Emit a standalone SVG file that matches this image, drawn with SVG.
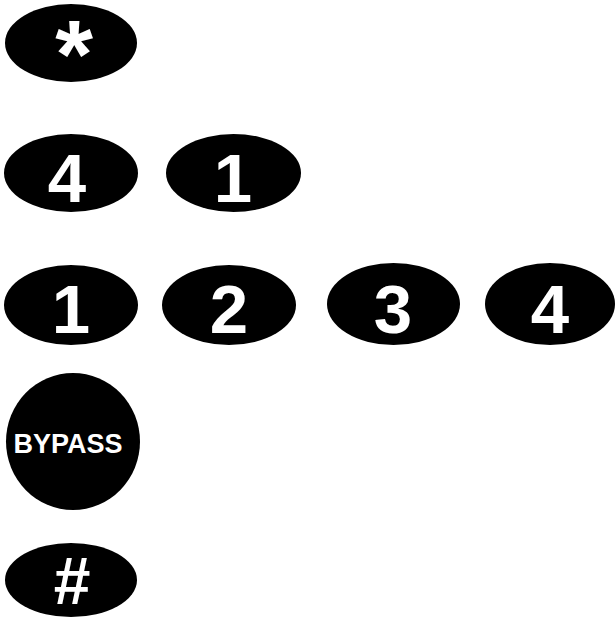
<svg xmlns="http://www.w3.org/2000/svg" width="616" height="618" viewBox="0 0 616 618">
<style>
  .key { fill: #000; }
  .lbl { fill: #fff; font-family: "Liberation Sans", Arial, sans-serif; font-weight: bold; text-anchor: middle; }
  .big { font-size: 69px; }
</style>
<rect width="616" height="618" fill="#fff"/>
<g id="key-star">
  <ellipse class="key" cx="71" cy="43" rx="66" ry="39"/>
  <text class="lbl" x="74" y="88" style="font-size:97px">*</text>
</g>
<g id="key-4a">
  <ellipse class="key" cx="71" cy="173" rx="67" ry="39"/>
  <text class="lbl big" x="67" y="202">4</text>
</g>
<g id="key-1a">
  <ellipse class="key" cx="233.5" cy="173" rx="67.5" ry="39"/>
  <text class="lbl big" x="233" y="202">1</text>
</g>
<g id="key-1">
  <ellipse class="key" cx="71" cy="305" rx="67" ry="40"/>
  <text class="lbl big" x="71" y="333">1</text>
</g>
<g id="key-2">
  <ellipse class="key" cx="229" cy="305" rx="67" ry="40"/>
  <text class="lbl big" x="229" y="333">2</text>
</g>
<g id="key-3">
  <ellipse class="key" cx="393.5" cy="304" rx="66.5" ry="41"/>
  <text class="lbl big" x="393" y="333">3</text>
</g>
<g id="key-4">
  <ellipse class="key" cx="550" cy="304" rx="65" ry="41"/>
  <text class="lbl big" x="550" y="333">4</text>
</g>
<g id="key-bypass">
  <ellipse class="key" cx="73" cy="441.5" rx="67" ry="68.5"/>
  <text class="lbl" x="68" y="453" style="font-size:27px">BYPASS</text>
</g>
<g id="key-hash">
  <ellipse class="key" cx="71" cy="580" rx="66" ry="37"/>
  <text class="lbl" x="72" y="604" style="font-size:66px">#</text>
</g>
<g id="connectors"/>
</svg>
